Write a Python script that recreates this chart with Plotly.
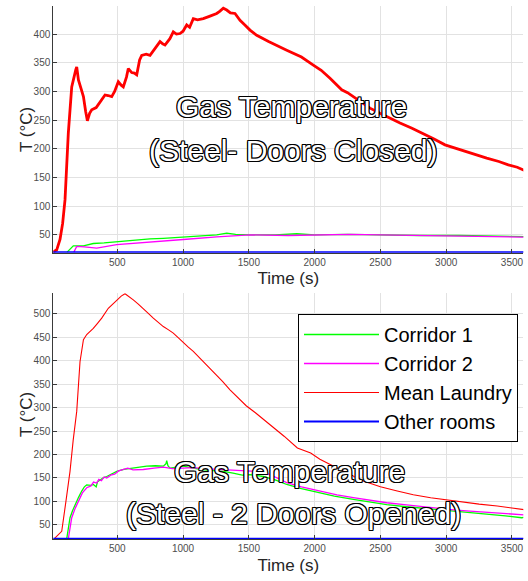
import plotly.graph_objects as go

# ---------------- DATA ----------------
# Top panel: Steel - Doors Closed
t_c_laundry = [10, 40, 65, 85, 103, 128, 154, 172, 185, 192, 200, 205, 225, 243, 260, 273, 290, 306, 340, 369,
               390, 407, 430, 458, 480, 508, 530, 546, 570, 584, 610, 630, 648, 670, 686, 720, 749, 790, 825, 845,
               863, 900, 926, 950, 977, 1000, 1028, 1050, 1078, 1110, 1154, 1200, 1256, 1281, 1306, 1332, 1360,
               1395, 1433, 1470, 1509, 1560, 1650, 1788, 1900, 1990, 2050, 2117, 2160, 2206, 2250, 2294, 2350,
               2421, 2497, 2548, 2649, 2740, 2826, 2900, 2991, 3070, 3156, 3230, 3308, 3400, 3472, 3540, 3586, 3600]
v_c_laundry = [20, 24, 42, 70, 111, 227, 308, 329, 338, 343, 332, 320, 305, 291, 265, 249, 262, 268, 272, 282,
               287, 294, 293, 291, 300, 317, 311, 308, 325, 340, 333, 332, 329, 355, 363, 365, 363, 375, 387, 383,
               381, 392, 404, 400, 401, 405, 416, 412, 427, 425, 427, 431, 436, 440, 445, 442, 437,
               436, 424, 416, 407, 398, 387, 372, 360, 346, 337, 323, 314, 303, 298, 291, 281,
               271, 262, 256, 245, 236, 227, 218, 207, 201, 195, 190, 184, 178, 172, 168, 163, 162]

t_c_corr1 = [119, 128, 150, 166, 243, 318, 400, 496, 600, 749, 850, 1002, 1100, 1256, 1332, 1400, 1509, 1700,
             1864, 2000, 2250, 2500, 2800, 3100, 3400, 3600]
v_c_corr1 = [20, 22, 28, 31, 31, 35, 36, 38, 40, 43, 44, 46.5, 48, 50, 53, 51, 50, 50,
             52, 50, 51, 50, 49, 49, 48, 47]

t_c_corr2 = [170, 185, 192, 250, 344, 496, 749, 1002, 1256, 1509, 1800, 2000, 2270, 2500, 2800, 3100, 3400, 3600]
v_c_corr2 = [20, 29, 30, 29, 27, 33, 38, 42, 46.5, 50, 49, 50, 51, 50, 49, 48, 47, 46]

t_c_other = [10, 3600]
v_c_other = [20, 20]

# Bottom panel: Steel - 2 Doors Opened
t_o_laundry = [20, 50, 78, 110, 141, 165, 192, 217, 243, 268, 293, 318, 350, 382, 432, 496, 530, 559, 590, 622,
               660, 698, 736, 774, 812, 850, 890, 926, 965, 1002, 1040, 1078, 1116, 1154, 1200, 1256, 1300,
               1357, 1420, 1480, 1550, 1616, 1690, 1768, 1869, 1970, 2040, 2122, 2250, 2375, 2500, 2628, 2750,
               2882, 3000, 3135, 3250, 3388, 3500, 3600]
v_o_laundry = [20, 28, 36, 100, 164, 230, 292, 398, 445, 456, 462, 469, 480, 491, 512, 530, 538, 543, 537, 530,
               521, 512, 501, 491, 482, 473, 466, 459, 449, 438, 429, 420, 409, 398, 385, 370, 356,
               338, 321, 304, 289, 274, 257, 239, 214, 203, 190, 178, 160, 143, 131, 122, 114,
               107.5, 103, 98, 94, 90, 86, 82]

t_o_corr1 = [116, 125, 141, 160, 179, 205, 230, 250, 268, 300, 318, 340, 350, 370, 394, 420, 440, 470, 496, 550,
             622, 680, 724, 790, 850, 870, 876, 885, 901, 950, 1002, 1060, 1129, 1200, 1306, 1380, 1450, 1509,
             1610, 1700, 1788, 1900, 2041, 2150, 2294, 2420, 2548, 2680, 2801, 2930, 3054, 3180, 3308, 3450,
             3574, 3600]
v_o_corr1 = [20, 35, 65, 80, 93, 108, 122, 131, 135, 134, 136, 131, 142, 146, 150, 153, 156, 160, 164, 168,
             171, 172, 175, 176, 175, 180, 187, 176, 171, 173, 175, 172, 168, 166, 164, 160, 156, 157,
             153, 146, 136, 127, 118, 111, 104, 98, 93, 89, 86, 82, 79, 75, 72, 69,
             65, 66]

t_o_corr2 = [128, 140, 154, 180, 205, 235, 268, 300, 320, 344, 360, 380, 400, 420, 450, 480, 510, 546, 580, 620,
             698, 780, 850, 920, 1002, 1080, 1154, 1281, 1380, 1509, 1610, 1700, 1788, 1900, 2041, 2170, 2294,
             2420, 2548, 2680, 2801, 2930, 3054, 3180, 3308, 3450, 3574, 3600]
v_o_corr2 = [20, 40, 65, 85, 100, 118, 129, 133, 141, 139, 147, 144, 152, 150, 156, 158, 165, 168, 171, 167,
             168, 171, 173, 170, 171, 172, 170, 168, 168, 165, 163, 152, 140, 131, 122, 114, 108,
             102, 97, 93, 89, 85, 82, 79, 76.7, 74, 72, 71]

t_o_other = [10, 3600]
v_o_other = [20, 20]

series_names = ["Corridor 1", "Corridor 2", "Mean Laundry", "Other rooms"]
series_colors = ["#00ff00", "#ff00ff", "#ff0000", "#0000ff"]

x_ticks = [500, 1000, 1500, 2000, 2500, 3000, 3500]
y_ticks_top = [50, 100, 150, 200, 250, 300, 350, 400]
y_ticks_bot = [50, 100, 150, 200, 250, 300, 350, 400, 450, 500]

x_title = "Time (s)"
y_title = "T (°C)"

# ---------------- FIGURE ----------------
fig = go.Figure()

top = [(t_c_corr1, v_c_corr1, 1.3), (t_c_corr2, v_c_corr2, 1.3), (t_c_laundry, v_c_laundry, 2.8), (t_c_other, v_c_other, 2)]
bot = [(t_o_corr1, v_o_corr1, 1.3), (t_o_corr2, v_o_corr2, 1.3), (t_o_laundry, v_o_laundry, 1.1), (t_o_other, v_o_other, 2)]

for i, (t, v, w) in enumerate(top):
    fig.add_trace(go.Scatter(x=t, y=v, mode="lines", name=series_names[i], showlegend=False,
                             line=dict(color=series_colors[i], width=w), xaxis="x", yaxis="y"))
for i, (t, v, w) in enumerate(bot):
    fig.add_trace(go.Scatter(x=t, y=v, mode="lines", name=series_names[i], showlegend=True,
                             line=dict(color=series_colors[i], width=w), xaxis="x2", yaxis="y2"))

W, H = 528, 581
xdom = [53.3 / W, 523.3 / W]
ydom_top = [1 - 252.7 / H, 1 - 6 / H]
ydom_bot = [1 - 539.3 / H, 1 - 293.3 / H]

FAM = "Liberation Sans, Arial, sans-serif"
tickfont = dict(family=FAM, size=10, color="#4d4d4d")
titlefont = dict(family=FAM, size=17, color="#262626")

def xax(anchor):
    return dict(domain=xdom, range=[14, 3586], anchor=anchor, tickvals=x_ticks,
                showgrid=True, gridcolor="#e2e2e2", gridwidth=1, zeroline=False,
                showline=True, linecolor="#3a3a3a", linewidth=1,
                ticks="inside", ticklen=4, tickcolor="#3a3a3a", tickfont=tickfont,
                title=dict(text=x_title, font=titlefont, standoff=5), automargin=False)

def yax(anchor, dom, rng, ticks):
    return dict(domain=dom, range=rng, anchor=anchor, tickvals=ticks,
                showgrid=True, gridcolor="#e2e2e2", gridwidth=1, zeroline=False,
                showline=True, linecolor="#3a3a3a", linewidth=1,
                ticks="inside", ticklen=4, tickcolor="#3a3a3a", tickfont=tickfont,
                automargin=False)

outline = "-1px -1px 0 #000, 1px -1px 0 #000, -1px 1px 0 #000, 1px 1px 0 #000, 0 1px 0 #000, 0 -1px 0 #000, 1px 0 0 #000, -1px 0 0 #000"
afont = dict(family=FAM, size=30, color="white", shadow=outline)

annotations = [
    dict(text="Gas Temperature", x=291 / W, y=1 - 107 / H),
    dict(text="(Steel- Doors Closed)", x=293 / W, y=1 - 150 / H),
    dict(text="Gas Temperature", x=289 / W, y=1 - 471.7 / H),
    dict(text="(Steel - 2 Doors Opened)", x=293 / W, y=1 - 513.3 / H),
]
for a in annotations:
    a.update(xref="paper", yref="paper", xanchor="center", yanchor="middle", showarrow=False, font=afont)

# y-axis titles (rotated text, positioned like the reference)
for yc in (130, 415):
    annotations.append(dict(text=y_title, x=26 / W, y=1 - yc / H, xref="paper", yref="paper",
                            xanchor="center", yanchor="middle", textangle=-90, showarrow=False,
                            font=titlefont))

fig.update_layout(
    width=W, height=H,
    margin=dict(l=0, r=0, t=0, b=0),
    paper_bgcolor="white", plot_bgcolor="white",
    xaxis=xax("y"), yaxis=yax("x", ydom_top, [19, 449], y_ticks_top),
    xaxis2=xax("y2"), yaxis2=yax("x2", ydom_bot, [19, 544], y_ticks_bot),
    legend=dict(x=298 / W, y=1 - 314 / H, xanchor="left", yanchor="top",
                bgcolor="white", bordercolor="black", borderwidth=1,
                font=dict(family=FAM, size=20, color="black"), itemwidth=75,
                tracegroupgap=0),
    annotations=annotations,
    showlegend=True,
)

fig.write_html("out.html")
